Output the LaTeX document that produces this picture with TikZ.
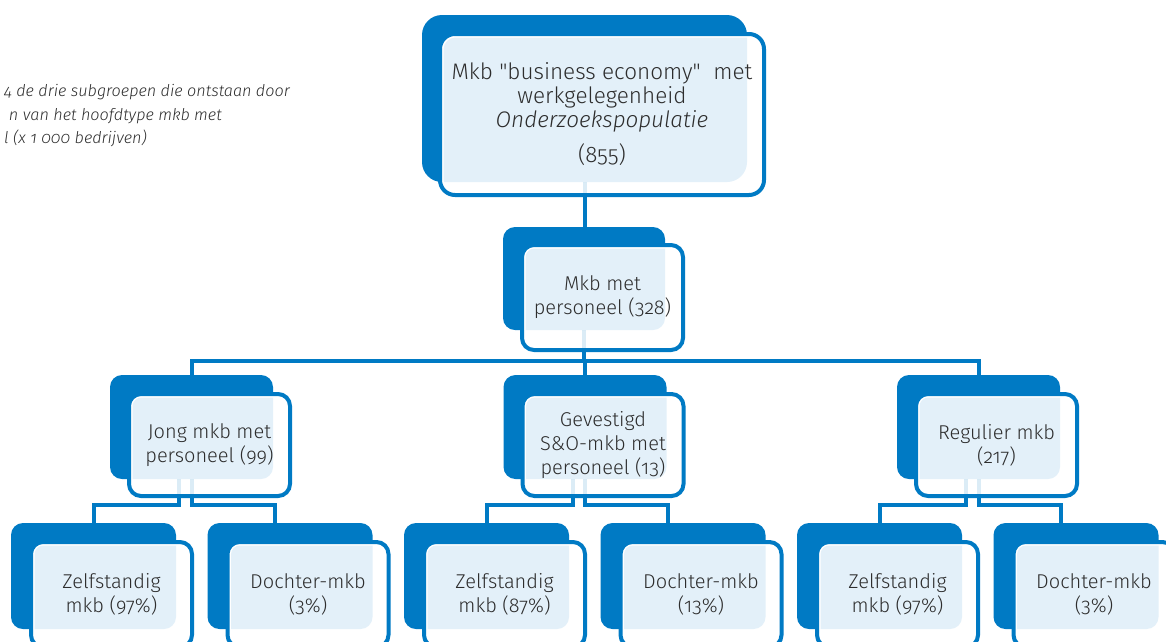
\documentclass[tikz,border=0pt]{standalone}
\usepackage{fontspec}
\IfFontExistsTF{Fira Sans Light}{\setmainfont{Fira Sans Light}[Numbers=OldStyle,Ligatures=TeXOff,ItalicFont={Fira Sans Light Italic}]}{\setmainfont{Fira Sans}[Numbers=OldStyle,Ligatures=TeXOff]}
\usetikzlibrary{calc}
\definecolor{rblue}{RGB}{0,122,196}
\definecolor{rlight}{RGB}{227,240,249}
\definecolor{rtext}{RGB}{45,45,45}
\tikzset{
  backbox/.style={rectangle, fill=rblue, draw=none, inner sep=0pt, outer sep=0pt, anchor=north west, rounded corners=12pt},
  frontbox/.style={rectangle, fill=white, draw=rblue, line width=4pt, inner sep=0pt, outer sep=0pt, anchor=north west},
  boxtext/.style={align=center, text=rtext, inner sep=0pt, font=\fontsize{20}{24}\selectfont},
  captiontext/.style={anchor=base east, inner sep=0pt, text=rtext, font=\fontsize{16.2}{20}\selectfont\itshape},
  conn/.style={draw=rblue, line width=4pt},
  ghost/.style={draw=rblue, line width=4pt, opacity=0.14},
}
% #1 name, #2 dx, #3 dy, #4 front width, #5 front height, #6 text
\newcommand\frontpart[6]{%
  \node[frontbox, minimum width=#4pt, minimum height=#5pt, rounded corners=\rf] (#1f) at ($(#1b.north west)+(#2,#3)$) {};
  \begin{scope}
    \clip[rounded corners=\rb] (#1b.north west) rectangle (#1b.south east);
    \fill[rlight, rounded corners=\rl] ($(#1f.north west)+(3.5,3.5)$) rectangle ($(#1f.south east)+(-3.5,-3.5)$);
  \end{scope}
  \node[boxtext] (#1t) at (#1f.center) {#6};
}
\newcommand\lthree[3]{%
  \frontpart{#1}{20}{19}{161}{105}{#2\\#3}
}
\newcommand\connectors[1]{%
  \draw[#1] (topb.south) -- (topb.south |- midb.north);
  \draw[#1] (midb.south) -- ++(0,31);
  \draw[#1] (l2ab.north) -- ++(0,-14) -| (l2cb.north);
  \draw[#1] (l2bb.north) -- ++(0,-14);
  \draw[#1] ([xshift=-13pt]l2ab.south) -- ++(0,26) -| (l3ab.north);
  \draw[#1] (l2ab.south) -- ++(0,26) -| ([xshift=-15pt]l3bb.north);
  \draw[#1] ([xshift=-12pt]l2bb.south) -- ++(0,26) -| (l3cb.north);
  \draw[#1] (l2bb.south) -- ++(0,26) -| ([xshift=-15pt]l3db.north);
  \draw[#1] ([xshift=-13pt]l2cb.south) -- ++(0,26) -| (l3eb.north);
  \draw[#1] (l2cb.south) -- ++(0,26) -| ([xshift=-15pt]l3fb.north);
}
\begin{document}
\begin{tikzpicture}[x=1pt,y=-1pt]
\useasboundingbox (0,0) rectangle (1166,641);
% caption (cut at the left edge)
\node[captiontext] (cap1) at (290,96) {4 de drie subgroepen die ontstaan door};
\node[captiontext] (cap2) at (222,120) {n van het hoofdtype mkb met};
\node[captiontext] (cap3) at (147,143) {l (x 1 000 bedrijven)};

% ---- back boxes ----
\node[backbox, minimum width=325pt, minimum height=167pt, rounded corners=20pt] (topb) at (422,15) {};
\node[backbox, minimum width=162pt, minimum height=103pt] (midb) at (503,227) {};
\node[backbox, minimum width=163pt, minimum height=104pt] (l2ab) at (110,375) {};
\node[backbox, minimum width=163pt, minimum height=104pt] (l2bb) at (503.5,375) {};
\node[backbox, minimum width=163pt, minimum height=104pt] (l2cb) at (897,375) {};
\node[backbox, minimum width=165pt, minimum height=106pt] (l3ab) at (11,523) {};
\node[backbox, minimum width=165pt, minimum height=106pt] (l3bb) at (207.5,523) {};
\node[backbox, minimum width=165pt, minimum height=106pt] (l3cb) at (404,523) {};
\node[backbox, minimum width=165pt, minimum height=106pt] (l3db) at (600.5,523) {};
\node[backbox, minimum width=165pt, minimum height=106pt] (l3eb) at (797,523) {};
\node[backbox, minimum width=165pt, minimum height=106pt] (l3fb) at (993.5,523) {};

% ---- connectors ----
\connectors{conn}

% ---- front boxes ----
\def\rb{20pt}\def\rf{15pt}\def\rl{12pt}
\frontpart{top}{18}{19}{324}{161}{\fontsize{22.5}{26}\selectfont Mkb "business economy"\ \ met\\\fontsize{22.5}{26}\selectfont werkgelegenheid\\\fontsize{22.5}{26}\selectfont\itshape Onderzoekspopulatie\\[11pt]\fontsize{22.5}{26}\selectfont (855)}

\def\rb{12pt}\def\rf{12pt}\def\rl{9pt}
\frontpart{mid}{19}{18}{161}{105}{Mkb met\\personeel (328)}
\frontpart{l2a}{19}{19}{161}{102}{Jong mkb met\\personeel (99)}
\frontpart{l2b}{19}{19}{161}{102}{Gevestigd\\S\&O-mkb met\\personeel (13)}
\frontpart{l2c}{19}{19}{161}{102}{Regulier mkb\\(217)}

\lthree{l3a}{Zelfstandig}{mkb (97\%)}
\lthree{l3b}{Dochter-mkb}{(3\%)}
\lthree{l3c}{Zelfstandig}{mkb (87\%)}
\lthree{l3d}{Dochter-mkb}{(13\%)}
\lthree{l3e}{Zelfstandig}{mkb (97\%)}
\lthree{l3f}{Dochter-mkb}{(3\%)}

% faint connector traces seen through the boxes
\connectors{ghost}
\end{tikzpicture}
\end{document}
